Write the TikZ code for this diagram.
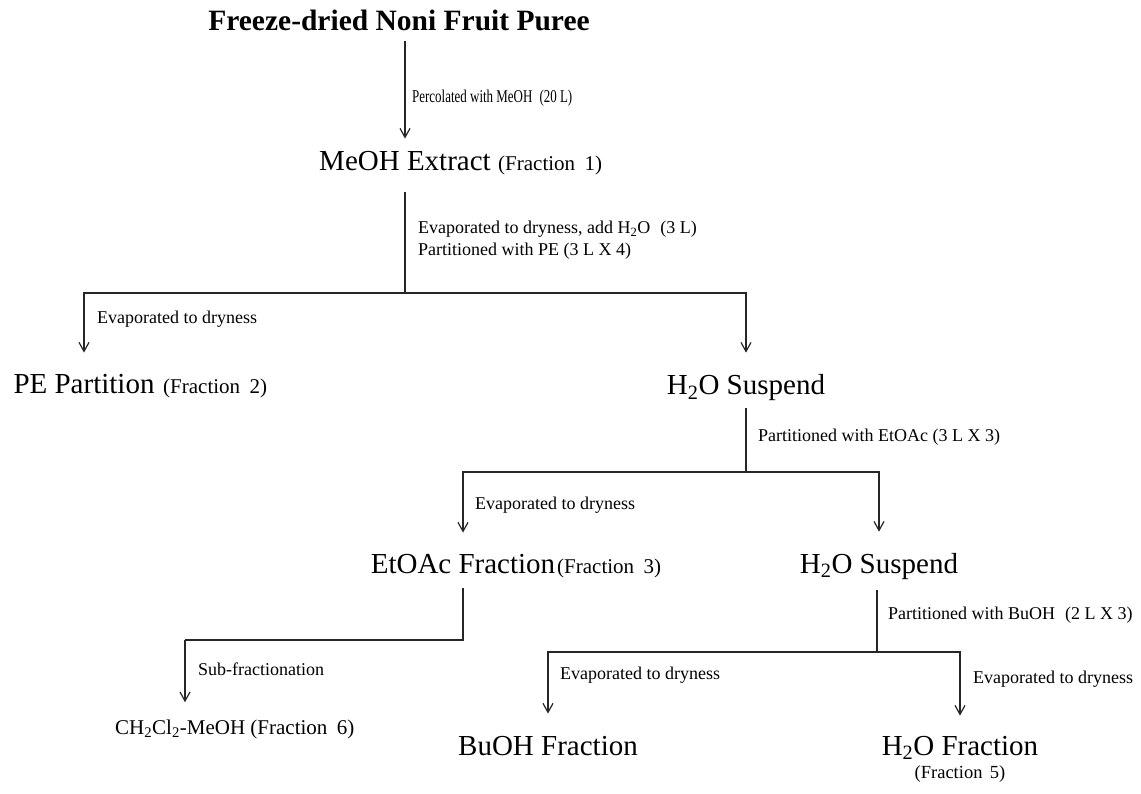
\documentclass[tikz,border=0pt]{standalone}
\usepackage{fontspec}
\setmainfont{Liberation Serif}
\usetikzlibrary{arrows.meta}
\tikzset{
  titlebox/.style={font=\fontsize{29.5}{34}\selectfont\bfseries, inner sep=0pt, anchor=base},
  big/.style={font=\fontsize{29}{34}\selectfont, inner sep=0pt, anchor=base},
  paren/.style={font=\fontsize{21}{25}\selectfont, inner sep=0pt, anchor=base west},
  smallparen/.style={font=\fontsize{18.5}{22}\selectfont, inner sep=0pt, anchor=base},
  lbl/.style={font=\fontsize{18}{21}\selectfont, inner sep=0pt, anchor=base west},
  flow/.style={line width=1.3pt, draw=black!85},
  arr/.style={flow, -{Straight Barb[length=9pt,width=10pt,line width=1.2pt]}},
}
\begin{document}
\begin{tikzpicture}[x=1pt,y=-1pt]
\useasboundingbox (0,0) rectangle (1141,794);

% main nodes
\node[titlebox] (puree) at (399,31) {Freeze-dried Noni Fruit Puree};
\node[big] (meoh) at (405,171) {MeOH Extract};
\node[paren] (f1) at (498,171) {(Fraction\hspace{.45em}1)};
\node[big] (pe) at (84,393) {PE Partition};
\node[paren] (f2) at (163,393) {(Fraction\hspace{.45em}2)};
\node[big] (h2oa) at (746,395) {H\textsubscript{2}O Suspend};
\node[big] (etoac) at (463,573) {EtOAc Fraction};
\node[paren] (f3) at (557,573) {(Fraction\hspace{.45em}3)};
\node[big] (h2ob) at (879,573) {H\textsubscript{2}O Suspend};
\node[paren] (ch) at (115,734) {CH\textsubscript{2}Cl\textsubscript{2}-MeOH (Fraction\hspace{.45em}6)};
\node[big] (buoh) at (548,755) {BuOH Fraction};
\node[big] (h2of) at (960,755) {H\textsubscript{2}O Fraction};
\node[smallparen] (f5) at (960,778) {(Fraction\hspace{.4em}5)};

% step labels
\node[lbl] (lperc) at (412,103) {\scalebox{0.72}[1]{Percolated with MeOH\hspace{.3em} (20 L)}};
\node[lbl] (levapa) at (418,234) {Evaporated to dryness, add H\textsubscript{2}O\hspace{.3em} (3 L)};
\node[lbl] (lpartpe) at (418,256) {Partitioned with PE (3 L X 4)};
\node[lbl] (levapb) at (97,324) {Evaporated to dryness};
\node[lbl] (lpartet) at (758,441) {Partitioned with EtOAc (3 L X 3)};
\node[lbl] (levapc) at (475,509) {Evaporated to dryness};
\node[lbl] (lsub) at (198,675) {Sub-fractionation};
\node[lbl] (lpartbu) at (888,619) {Partitioned with BuOH\hspace{.3em} (2 L X 3)};
\node[lbl] (levapd) at (560,679) {Evaporated to dryness};
\node[lbl] (levape) at (973,683) {Evaporated to dryness};

% junctions
\coordinate (ja) at (405,293);
\coordinate (jb) at (746,472);
\coordinate (jc) at (463,640);
\coordinate (jd) at (185,640);
\coordinate (je) at (877,652);

% connectors
\draw[arr, shorten <=9pt, shorten >=13pt] (puree.south -| meoh.north) -- (meoh.north);
\draw[flow, shorten <=21pt] (meoh.south) -- (ja);
\draw[arr, shorten >=21pt] (ja) -| (pe.north);
\draw[arr, shorten >=22pt] (ja) -| (h2oa.north);
\draw[flow, shorten <=7pt] (h2oa.south) -- (jb);
\draw[arr, shorten >=21pt] (jb) -| (etoac.north);
\draw[arr, shorten >=21pt] (jb) -| (h2ob.north);
\draw[flow, shorten <=15pt] (etoac.south) -- (jc) -- (jd);
\draw[arr, shorten >=17pt] (jd) -- (jd |- ch.north);
\draw[flow, shorten <=11pt] (je |- h2ob.south) -- (je);
\draw[arr, shorten >=22pt] (je) -| (buoh.north);
\draw[arr, shorten >=20pt] (je) -| (h2of.north);
\end{tikzpicture}
\end{document}
